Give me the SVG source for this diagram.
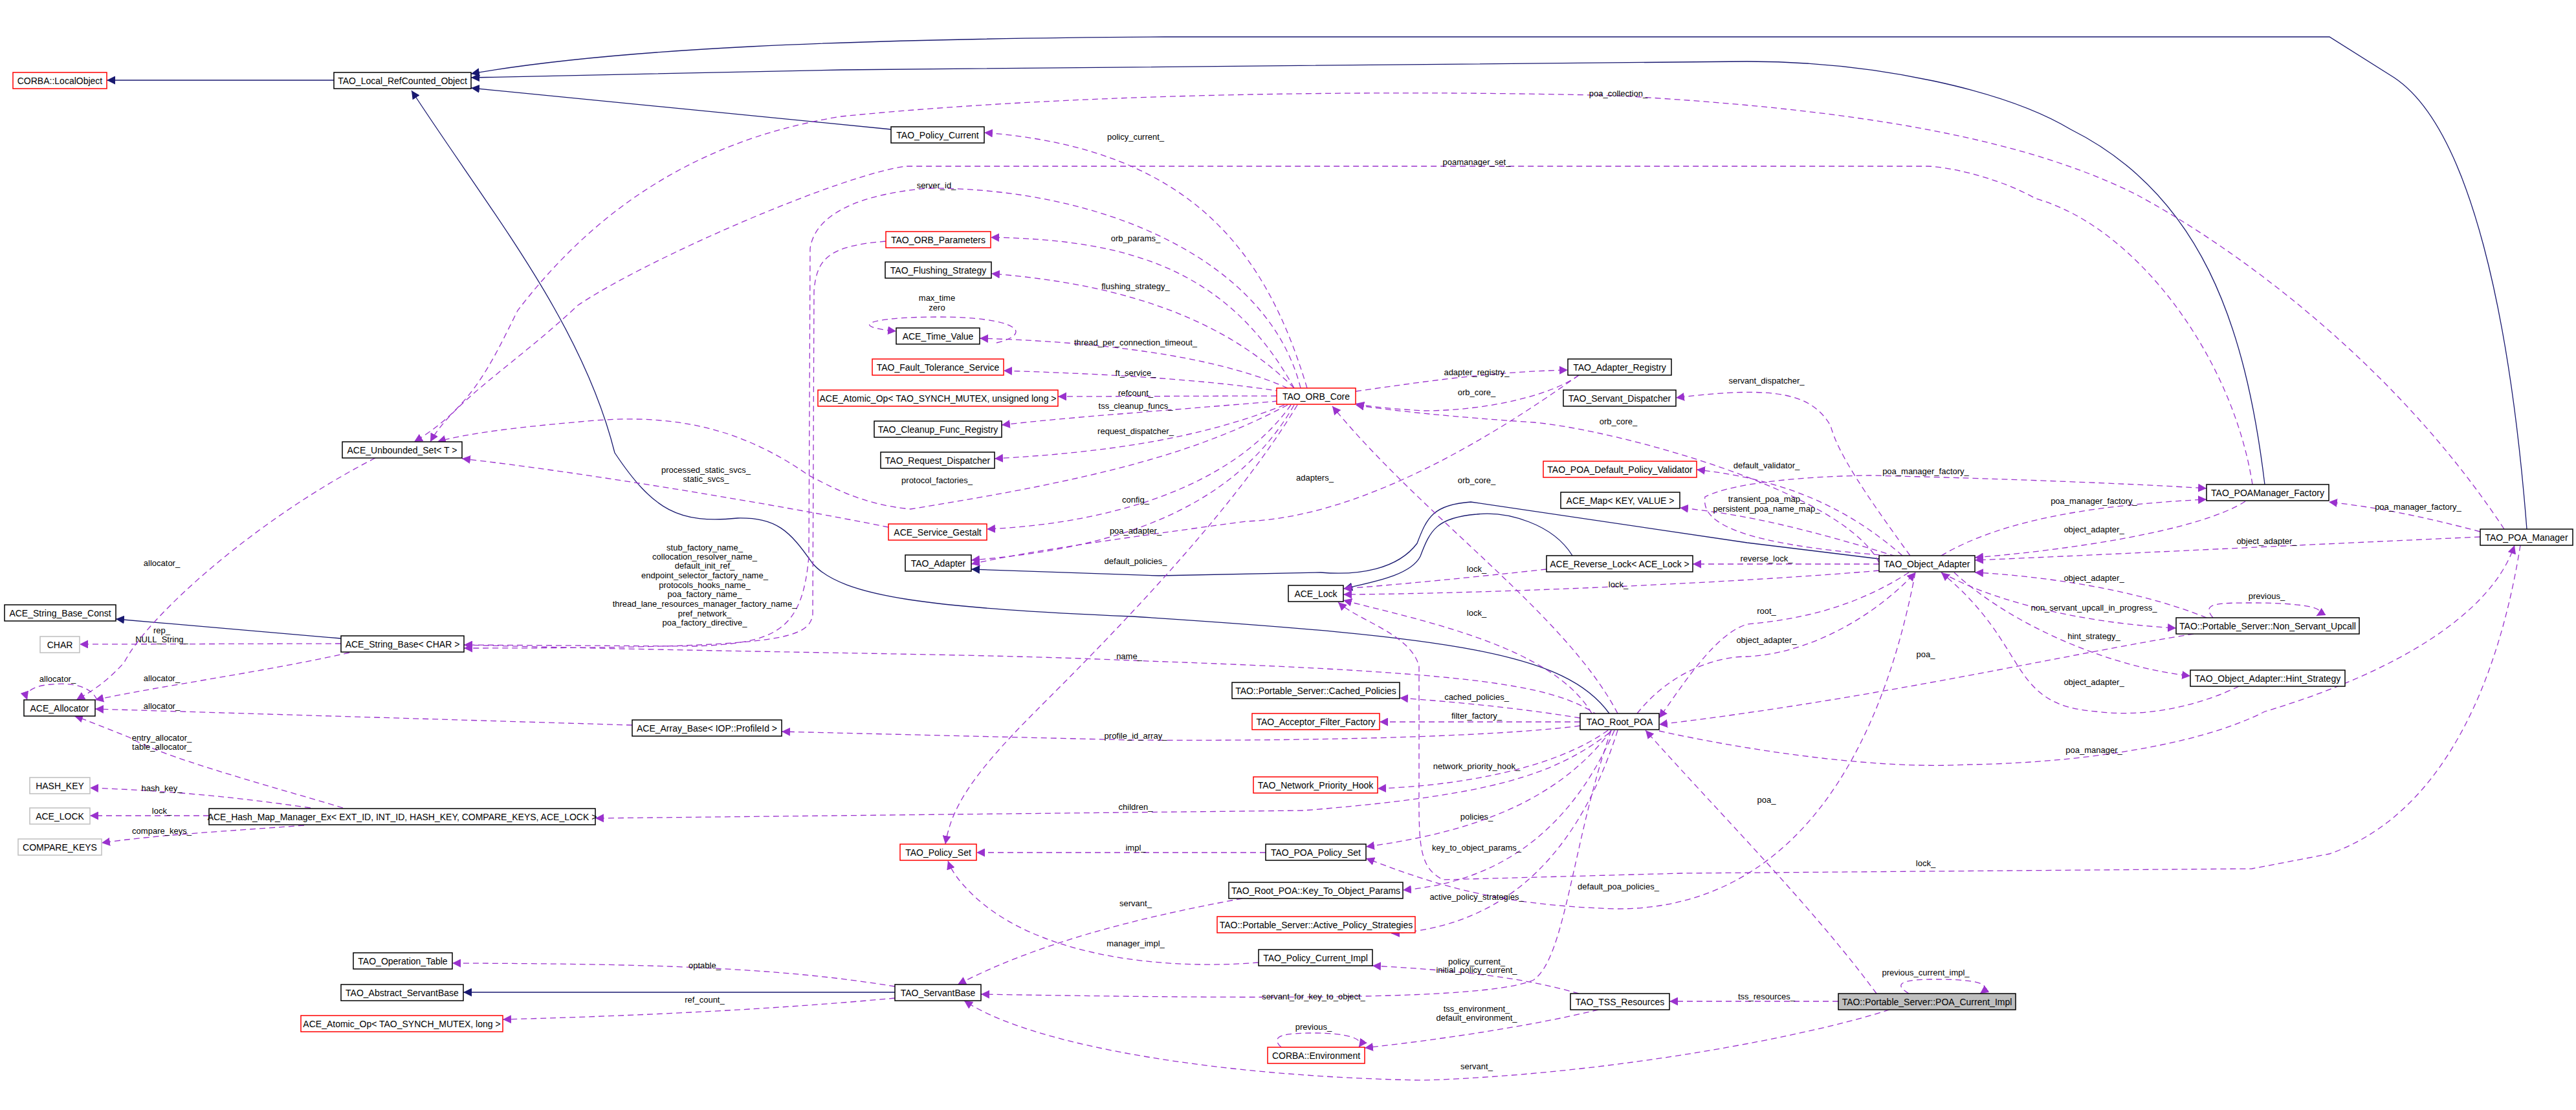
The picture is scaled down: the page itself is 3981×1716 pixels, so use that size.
<svg xmlns="http://www.w3.org/2000/svg" width="3981" height="1716" viewBox="0 0 3981 1716">
<style>
.b{fill:#fff;stroke:#000;stroke-width:1.5}
.r{fill:#fff;stroke:#f00;stroke-width:1.5}
.g{fill:#fff;stroke:#bfbfbf;stroke-width:1.5}
.s{fill:#bfbfbf;stroke:#000;stroke-width:1.5}
.t{font-family:"Liberation Sans",Arial,sans-serif;font-size:14px;text-anchor:middle;fill:#000}
.l{font-family:"Liberation Sans",Arial,sans-serif;font-size:13px;text-anchor:middle;fill:#000}
.i{fill:none;stroke:#191970;stroke-width:1.3;marker-end:url(#mi)}
.u{fill:none;stroke:#9a32cd;stroke-width:1.3;stroke-dasharray:9,6;marker-end:url(#mu)}
</style>
<defs>
<marker id="mi" viewBox="0 0 10 10" refX="10" refY="5" markerWidth="13" markerHeight="13" markerUnits="userSpaceOnUse" orient="auto"><path d="M0,0L10,5L0,10z" fill="#191970"/></marker>
<marker id="mu" viewBox="0 0 10 10" refX="10" refY="5" markerWidth="13" markerHeight="13" markerUnits="userSpaceOnUse" orient="auto"><path d="M0,0L10,5L0,10z" fill="#9a32cd"/></marker>
</defs>
<rect width="3981" height="1716" fill="#fff"/>
<g id="edges">
<path class="i" d="M516,124L165,124"/>
<path class="i" d="M3905,818C3880,500 3820,200 3700,120L3600,57L1800,57C1300,60 950,75 728,114"/>
<path class="i" d="M3500,749C3470,500 3400,300 3200,200C3100,140 2900,95 2700,95L1300,108L728,120"/>
<path class="i" d="M1377,200L728,136"/>
<path class="i" d="M2487,1103C2420,1010 2250,985 1750,953C1450,940 1300,925 1255,870C1220,820 1200,800 1140,801C1050,810 1010,790 950,700C900,500 760,330 636,140"/>
<path class="i" d="M2904,864L2700,839L2273,776C2215,780 2205,800 2190,840C2160,880 2100,890 2041,885L1791,890L1501,880"/>
<path class="i" d="M2430,859C2400,810 2330,790 2282,795C2220,800 2210,820 2195,860C2180,890 2120,900 2077,910"/>
<path class="i" d="M527,987L179,957"/>
<path class="i" d="M1383,1534L716,1534"/>
<path class="u" d="M2020,600C1960,400 1850,230 1521,205"/>
<path class="u" d="M3870,818C3700,560 3450,380 3300,300C3100,200 2800,165 2500,148C2200,140 1700,140 1300,180C1050,220 900,350 800,480C760,560 730,630 640,683"/>
<path class="u" d="M3481,749C3450,550 3300,350 3146,307C3080,270 3000,257 2979,257L1400,257C1300,270 1000,400 893,472C800,560 700,620 665,683"/>
<path class="u" d="M2010,600C1960,400 1700,290 1434,291C1330,300 1260,330 1252,384L1250,860C1240,975 1200,995 1071,999L717,997"/>
<path class="u" d="M1369,373C1280,380 1262,400 1258,450L1256,950C1250,990 1200,1002 717,1002"/>
<path class="u" d="M2470,1106C2400,1060 2300,1040 1746,1021C1500,1010 1200,1010 717,997"/>
<path class="u" d="M527,995L123,996"/>
<path class="u" d="M540,1009C400,1040 250,1060 147,1082"/>
<path class="u" d="M580,708C400,800 230,950 192,1024C160,1060 130,1075 118,1082"/>
<path class="u" d="M150,1082C140,1060 110,1055 80,1058C50,1060 38,1070 42,1082"/>
<path class="u" d="M977,1121L147,1096"/>
<path class="u" d="M530,1249C400,1210 250,1170 200,1140C150,1120 125,1110 115,1107"/>
<path class="u" d="M480,1249C350,1230 250,1222 139,1218"/>
<path class="u" d="M323,1261L139,1261"/>
<path class="u" d="M470,1276C350,1285 250,1290 157,1303"/>
<path class="u" d="M2487,1133C2400,1200 2300,1230 2014,1253L920,1265"/>
<path class="u" d="M2442,1122C2300,1140 2000,1146 1746,1144L1208,1131"/>
<path class="u" d="M1383,1525C1200,1495 1000,1490 699,1489"/>
<path class="u" d="M1383,1543C1200,1560 1000,1570 777,1576"/>
<path class="u" d="M2000,600C1900,420 1750,370 1531,367"/>
<path class="u" d="M2000,600C1900,500 1750,440 1532,423"/>
<path class="u" d="M1990,600C1900,560 1750,530 1514,523"/>
<path class="u" d="M1540,530C1600,515 1570,490 1450,490C1340,490 1310,505 1385,512"/>
<path class="u" d="M1980,605C1850,585 1700,578 1551,573"/>
<path class="u" d="M1973,612L1635,613"/>
<path class="u" d="M1975,620C1800,635 1650,645 1548,657"/>
<path class="u" d="M1985,626C1850,680 1700,700 1537,709"/>
<path class="u" d="M1990,626C1850,700 1700,740 1407,787C1330,780 1280,750 1250,735C1150,665 1050,640 920,650C800,660 720,670 676,683"/>
<path class="u" d="M1373,815C1200,780 900,730 714,709"/>
<path class="u" d="M1995,626C1900,760 1700,810 1525,818"/>
<path class="u" d="M2000,626C1900,800 1700,850 1501,866"/>
<path class="u" d="M2440,580C2300,680 2100,800 1925,806C1750,830 1600,850 1501,872"/>
<path class="u" d="M2005,626C1900,800 1700,1000 1600,1100C1500,1200 1470,1250 1461,1305"/>
<path class="u" d="M2095,605C2200,590 2300,575 2423,572"/>
<path class="u" d="M2440,580C2400,610 2300,635 2200,635C2150,632 2110,628 2095,624"/>
<path class="u" d="M2904,870C2850,760 2500,665 2371,653C2250,645 2150,635 2095,626"/>
<path class="u" d="M2500,1103C2420,950 2200,800 2059,628"/>
<path class="u" d="M2952,859C2880,760 2840,700 2829,658C2800,610 2750,595 2590,615"/>
<path class="u" d="M2940,859C2850,780 2750,740 2622,726"/>
<path class="u" d="M2920,859C2660,840 2630,800 2635,768C2680,745 2800,736 2890,735C3100,740 3300,748 3410,755"/>
<path class="u" d="M2930,860C2800,820 2700,795 2596,785"/>
<path class="u" d="M3000,859C3100,800 3250,780 3410,772"/>
<path class="u" d="M3470,775C3400,820 3200,850 3052,862"/>
<path class="u" d="M3833,822C3750,800 3680,785 3599,776"/>
<path class="u" d="M3833,830C3500,845 3200,860 3052,866"/>
<path class="u" d="M2904,872L2616,872"/>
<path class="u" d="M2390,880C2300,890 2150,905 2076,910"/>
<path class="u" d="M2904,882C2700,900 2300,918 2076,919"/>
<path class="u" d="M2460,1103C2400,1000 2200,960 2076,928"/>
<path class="u" d="M3895,843C3870,1000 3800,1250 3600,1320L3480,1343L2600,1350L2230,1360C2190,1340 2193,1300 2193,1200L2193,1030C2180,980 2100,960 2068,931"/>
<path class="u" d="M2950,885C2850,950 2750,960 2700,965C2650,980 2600,1060 2564,1110"/>
<path class="u" d="M2530,1103C2580,1040 2650,1015 2700,1015C2800,1010 2900,950 2960,885"/>
<path class="u" d="M3410,955C3300,910 3150,890 3052,885"/>
<path class="u" d="M3000,885C3100,940 3250,965 3363,971"/>
<path class="u" d="M3420,955C3400,932 3430,932 3480,932C3560,932 3600,940 3580,952"/>
<path class="u" d="M3020,885C3100,960 3250,1030 3385,1045"/>
<path class="u" d="M3460,1061C3400,1090 3320,1110 3240,1100C3100,1090 3140,1000 3000,885"/>
<path class="u" d="M3390,980C3200,1010 2900,1080 2564,1120"/>
<path class="u" d="M2564,1130C2700,1160 2900,1190 3040,1182C3200,1180 3393,1155 3500,1100C3701,1040 3850,950 3886,843"/>
<path class="u" d="M2900,1536C2800,1400 2650,1250 2543,1129"/>
<path class="u" d="M2950,1536C2920,1518 2950,1514 2990,1514C3060,1514 3080,1522 3060,1536"/>
<path class="u" d="M2841,1548L2580,1548"/>
<path class="u" d="M2920,1561C2800,1600 2500,1660 2200,1670C1900,1665 1600,1620 1490,1547"/>
<path class="u" d="M2440,1536C2350,1510 2250,1500 2121,1493"/>
<path class="u" d="M2470,1561C2350,1590 2200,1610 2109,1620"/>
<path class="u" d="M1980,1619C1960,1600 1990,1597 2030,1597C2080,1597 2110,1605 2100,1619"/>
<path class="u" d="M1945,1488C1800,1500 1600,1480 1500,1380C1480,1360 1470,1345 1465,1331"/>
<path class="u" d="M1920,1389C1750,1420 1600,1460 1480,1522"/>
<path class="u" d="M2490,1129C2430,1300 2420,1480 2370,1515C2300,1545 2000,1545 1516,1537"/>
<path class="u" d="M1956,1318L1509,1318"/>
<path class="u" d="M2490,1129C2400,1250 2250,1290 2111,1309"/>
<path class="u" d="M2495,1129C2420,1300 2300,1365 2168,1376"/>
<path class="u" d="M2500,1129C2430,1350 2300,1435 2150,1443"/>
<path class="u" d="M2960,885C2900,1200 2750,1405 2500,1405C2300,1400 2200,1360 2111,1327"/>
<path class="u" d="M2485,1129C2400,1190 2250,1215 2129,1219"/>
<path class="u" d="M2442,1110C2350,1095 2250,1085 2163,1079"/>
<path class="u" d="M2442,1116L2132,1116"/>
</g>
<g id="labels">
<text class="l" x="1755" y="216">policy_current_</text>
<text class="l" x="2501" y="149">poa_collection_</text>
<text class="l" x="2282" y="255">poamanager_set_</text>
<text class="l" x="1447" y="291">server_id_</text>
<text class="l" x="1089" y="851">stub_factory_name_</text>
<text class="l" x="1089" y="865">collocation_resolver_name_</text>
<text class="l" x="1089" y="879">default_init_ref_</text>
<text class="l" x="1089" y="894">endpoint_selector_factory_name_</text>
<text class="l" x="1089" y="909">protocols_hooks_name_</text>
<text class="l" x="1089" y="923">poa_factory_name_</text>
<text class="l" x="1089" y="938">thread_lane_resources_manager_factory_name_</text>
<text class="l" x="1089" y="953">pref_network_</text>
<text class="l" x="1089" y="967">poa_factory_directive_</text>
<text class="l" x="1745" y="1019">name_</text>
<text class="l" x="250" y="979">rep_</text>
<text class="l" x="250" y="993">NULL_String_</text>
<text class="l" x="250" y="1053">allocator_</text>
<text class="l" x="250" y="875">allocator_</text>
<text class="l" x="89" y="1054">allocator_</text>
<text class="l" x="250" y="1096">allocator_</text>
<text class="l" x="250" y="1145">entry_allocator_</text>
<text class="l" x="250" y="1159">table_allocator_</text>
<text class="l" x="250" y="1223">hash_key_</text>
<text class="l" x="250" y="1258">lock_</text>
<text class="l" x="250" y="1289">compare_keys_</text>
<text class="l" x="1755" y="1252">children_</text>
<text class="l" x="1755" y="1142">profile_id_array_</text>
<text class="l" x="1089" y="1497">optable_</text>
<text class="l" x="1089" y="1550">ref_count_</text>
<text class="l" x="1755" y="373">orb_params_</text>
<text class="l" x="1755" y="447">flushing_strategy_</text>
<text class="l" x="1755" y="534">thread_per_connection_timeout_</text>
<text class="l" x="1448" y="465">max_time</text>
<text class="l" x="1448" y="480">zero</text>
<text class="l" x="1755" y="581">ft_service_</text>
<text class="l" x="1755" y="612">refcount_</text>
<text class="l" x="1755" y="632">tss_cleanup_funcs_</text>
<text class="l" x="1755" y="671">request_dispatcher_</text>
<text class="l" x="1448" y="747">protocol_factories_</text>
<text class="l" x="1091" y="731">processed_static_svcs_</text>
<text class="l" x="1091" y="745">static_svcs_</text>
<text class="l" x="1755" y="777">config_</text>
<text class="l" x="1755" y="825">poa_adapter_</text>
<text class="l" x="1755" y="872">default_policies_</text>
<text class="l" x="2032" y="743">adapters_</text>
<text class="l" x="2282" y="580">adapter_registry_</text>
<text class="l" x="2282" y="611">orb_core_</text>
<text class="l" x="2501" y="656">orb_core_</text>
<text class="l" x="2282" y="747">orb_core_</text>
<text class="l" x="2730" y="593">servant_dispatcher_</text>
<text class="l" x="2730" y="724">default_validator_</text>
<text class="l" x="2976" y="733">poa_manager_factory_</text>
<text class="l" x="2730" y="776">transient_poa_map_</text>
<text class="l" x="2730" y="791">persistent_poa_name_map_</text>
<text class="l" x="3236" y="779">poa_manager_factory_</text>
<text class="l" x="3236" y="823">object_adapter_</text>
<text class="l" x="3737" y="788">poa_manager_factory_</text>
<text class="l" x="3503" y="841">object_adapter_</text>
<text class="l" x="2730" y="868">reverse_lock_</text>
<text class="l" x="2282" y="884">lock_</text>
<text class="l" x="2501" y="908">lock_</text>
<text class="l" x="2282" y="952">lock_</text>
<text class="l" x="2976" y="1339">lock_</text>
<text class="l" x="2730" y="949">root_</text>
<text class="l" x="2730" y="994">object_adapter_</text>
<text class="l" x="3236" y="898">object_adapter_</text>
<text class="l" x="3236" y="944">non_servant_upcall_in_progress_</text>
<text class="l" x="3503" y="926">previous_</text>
<text class="l" x="3236" y="988">hint_strategy_</text>
<text class="l" x="3236" y="1059">object_adapter_</text>
<text class="l" x="2976" y="1016">poa_</text>
<text class="l" x="3236" y="1164">poa_manager_</text>
<text class="l" x="2730" y="1241">poa_</text>
<text class="l" x="2976" y="1508">previous_current_impl_</text>
<text class="l" x="2730" y="1545">tss_resources_</text>
<text class="l" x="2282" y="1653">servant_</text>
<text class="l" x="2282" y="1491">policy_current_</text>
<text class="l" x="2282" y="1504">initial_policy_current_</text>
<text class="l" x="2282" y="1564">tss_environment_</text>
<text class="l" x="2282" y="1578">default_environment_</text>
<text class="l" x="2030" y="1592">previous_</text>
<text class="l" x="1755" y="1463">manager_impl_</text>
<text class="l" x="1755" y="1401">servant_</text>
<text class="l" x="2030" y="1545">servant_for_key_to_object_</text>
<text class="l" x="1755" y="1315">impl_</text>
<text class="l" x="2282" y="1267">policies_</text>
<text class="l" x="2282" y="1315">key_to_object_params_</text>
<text class="l" x="2282" y="1391">active_policy_strategies_</text>
<text class="l" x="2501" y="1375">default_poa_policies_</text>
<text class="l" x="2282" y="1189">network_priority_hook_</text>
<text class="l" x="2282" y="1082">cached_policies_</text>
<text class="l" x="2282" y="1111">filter_factory_</text>
</g>
<g id="n1"><rect class="r" x="20" y="112" width="145" height="25"/><text class="t" x="92.5" y="129.5">CORBA::LocalObject</text></g>
<g id="n2"><rect class="b" x="516" y="112" width="212" height="25"/><text class="t" x="622" y="129.5">TAO_Local_RefCounted_Object</text></g>
<g id="n3"><rect class="b" x="529" y="683" width="185" height="25"/><text class="t" x="621.5" y="700.5">ACE_Unbounded_Set&lt; T &gt;</text></g>
<g id="n4"><rect class="b" x="7" y="935" width="172" height="25"/><text class="t" x="93" y="952.5">ACE_String_Base_Const</text></g>
<g id="n5"><rect class="g" x="62" y="984" width="61" height="25"/><text class="t" x="92.5" y="1001.5">CHAR</text></g>
<g id="n6"><rect class="b" x="527" y="983" width="190" height="25"/><text class="t" x="622" y="1000.5">ACE_String_Base&lt; CHAR &gt;</text></g>
<g id="n7"><rect class="b" x="37" y="1082" width="110" height="25"/><text class="t" x="92" y="1099.5">ACE_Allocator</text></g>
<g id="n8"><rect class="b" x="977" y="1113" width="231" height="25"/><text class="t" x="1092.5" y="1130.5">ACE_Array_Base&lt; IOP::ProfileId &gt;</text></g>
<g id="n9"><rect class="g" x="46" y="1202" width="93" height="25"/><text class="t" x="92.5" y="1219.5">HASH_KEY</text></g>
<g id="n10"><rect class="g" x="46" y="1249" width="93" height="25"/><text class="t" x="92.5" y="1266.5">ACE_LOCK</text></g>
<g id="n11"><rect class="b" x="323" y="1250" width="597" height="25"/><text class="t" x="621.5" y="1267.5">ACE_Hash_Map_Manager_Ex&lt; EXT_ID, INT_ID, HASH_KEY, COMPARE_KEYS, ACE_LOCK &gt;</text></g>
<g id="n12"><rect class="g" x="28" y="1297" width="129" height="25"/><text class="t" x="92.5" y="1314.5">COMPARE_KEYS</text></g>
<g id="n13"><rect class="b" x="546" y="1473" width="153" height="25"/><text class="t" x="622.5" y="1490.5">TAO_Operation_Table</text></g>
<g id="n14"><rect class="b" x="527" y="1522" width="189" height="25"/><text class="t" x="621.5" y="1539.5">TAO_Abstract_ServantBase</text></g>
<g id="n15"><rect class="r" x="465" y="1570" width="312" height="25"/><text class="t" x="621" y="1587.5">ACE_Atomic_Op&lt; TAO_SYNCH_MUTEX, long &gt;</text></g>
<g id="n16"><rect class="b" x="1377" y="196" width="144" height="25"/><text class="t" x="1449" y="213.5">TAO_Policy_Current</text></g>
<g id="n17"><rect class="r" x="1369" y="358" width="162" height="25"/><text class="t" x="1450" y="375.5">TAO_ORB_Parameters</text></g>
<g id="n18"><rect class="b" x="1368" y="405" width="164" height="25"/><text class="t" x="1450" y="422.5">TAO_Flushing_Strategy</text></g>
<g id="n19"><rect class="b" x="1385" y="507" width="129" height="25"/><text class="t" x="1449.5" y="524.5">ACE_Time_Value</text></g>
<g id="n20"><rect class="r" x="1348" y="555" width="203" height="25"/><text class="t" x="1449.5" y="572.5">TAO_Fault_Tolerance_Service</text></g>
<g id="n21"><rect class="r" x="1264" y="603" width="371" height="25"/><text class="t" x="1449.5" y="620.5">ACE_Atomic_Op&lt; TAO_SYNCH_MUTEX, unsigned long &gt;</text></g>
<g id="n22"><rect class="b" x="1351" y="651" width="197" height="25"/><text class="t" x="1449.5" y="668.5">TAO_Cleanup_Func_Registry</text></g>
<g id="n23"><rect class="b" x="1361" y="699" width="176" height="25"/><text class="t" x="1449" y="716.5">TAO_Request_Dispatcher</text></g>
<g id="n24"><rect class="r" x="1373" y="810" width="152" height="25"/><text class="t" x="1449" y="827.5">ACE_Service_Gestalt</text></g>
<g id="n25"><rect class="r" x="1973" y="600" width="122" height="25"/><text class="t" x="2034" y="617.5">TAO_ORB_Core</text></g>
<g id="n26"><rect class="b" x="2423" y="555" width="160" height="25"/><text class="t" x="2503" y="572.5">TAO_Adapter_Registry</text></g>
<g id="n27"><rect class="b" x="2416" y="603" width="174" height="25"/><text class="t" x="2503" y="620.5">TAO_Servant_Dispatcher</text></g>
<g id="n28"><rect class="r" x="2385" y="713" width="237" height="25"/><text class="t" x="2503.5" y="730.5">TAO_POA_Default_Policy_Validator</text></g>
<g id="n29"><rect class="b" x="2412" y="761" width="184" height="25"/><text class="t" x="2504" y="778.5">ACE_Map&lt; KEY, VALUE &gt;</text></g>
<g id="n30"><rect class="b" x="1399" y="858" width="102" height="25"/><text class="t" x="1450" y="875.5">TAO_Adapter</text></g>
<g id="n31"><rect class="b" x="1991" y="905" width="85" height="25"/><text class="t" x="2033.5" y="922.5">ACE_Lock</text></g>
<g id="n32"><rect class="b" x="2390" y="859" width="226" height="25"/><text class="t" x="2503" y="876.5">ACE_Reverse_Lock&lt; ACE_Lock &gt;</text></g>
<g id="n33"><rect class="b" x="1904" y="1055" width="259" height="25"/><text class="t" x="2033.5" y="1072.5">TAO::Portable_Server::Cached_Policies</text></g>
<g id="n34"><rect class="r" x="1935" y="1103" width="197" height="25"/><text class="t" x="2033.5" y="1120.5">TAO_Acceptor_Filter_Factory</text></g>
<g id="n35"><rect class="b" x="2442" y="1103" width="122" height="25"/><text class="t" x="2503" y="1120.5">TAO_Root_POA</text></g>
<g id="n36"><rect class="r" x="1937" y="1201" width="192" height="25"/><text class="t" x="2033" y="1218.5">TAO_Network_Priority_Hook</text></g>
<g id="n37"><rect class="r" x="1391" y="1305" width="118" height="25"/><text class="t" x="1450" y="1322.5">TAO_Policy_Set</text></g>
<g id="n38"><rect class="b" x="1956" y="1305" width="155" height="25"/><text class="t" x="2033.5" y="1322.5">TAO_POA_Policy_Set</text></g>
<g id="n39"><rect class="b" x="1899" y="1364" width="269" height="25"/><text class="t" x="2033.5" y="1381.5">TAO_Root_POA::Key_To_Object_Params</text></g>
<g id="n40"><rect class="r" x="1881" y="1417" width="306" height="25"/><text class="t" x="2034" y="1434.5">TAO::Portable_Server::Active_Policy_Strategies</text></g>
<g id="n41"><rect class="b" x="1945" y="1468" width="176" height="25"/><text class="t" x="2033" y="1485.5">TAO_Policy_Current_Impl</text></g>
<g id="n42"><rect class="b" x="1383" y="1522" width="133" height="25"/><text class="t" x="1449.5" y="1539.5">TAO_ServantBase</text></g>
<g id="n43"><rect class="b" x="2427" y="1536" width="153" height="25"/><text class="t" x="2503.5" y="1553.5">TAO_TSS_Resources</text></g>
<g id="n44"><rect class="r" x="1959" y="1619" width="150" height="25"/><text class="t" x="2034" y="1636.5">CORBA::Environment</text></g>
<g id="n45"><rect class="b" x="3410" y="749" width="189" height="25"/><text class="t" x="3504.5" y="766.5">TAO_POAManager_Factory</text></g>
<g id="n46"><rect class="b" x="3833" y="818" width="143" height="25"/><text class="t" x="3904.5" y="835.5">TAO_POA_Manager</text></g>
<g id="n47"><rect class="b" x="2904" y="859" width="148" height="25"/><text class="t" x="2978" y="876.5">TAO_Object_Adapter</text></g>
<g id="n48"><rect class="b" x="3363" y="955" width="283" height="25"/><text class="t" x="3504.5" y="972.5">TAO::Portable_Server::Non_Servant_Upcall</text></g>
<g id="n49"><rect class="b" x="3385" y="1036" width="239" height="25"/><text class="t" x="3504.5" y="1053.5">TAO_Object_Adapter::Hint_Strategy</text></g>
<g id="n50"><rect class="s" x="2841" y="1536" width="274" height="25"/><text class="t" x="2978" y="1553.5">TAO::Portable_Server::POA_Current_Impl</text></g>
</svg>
